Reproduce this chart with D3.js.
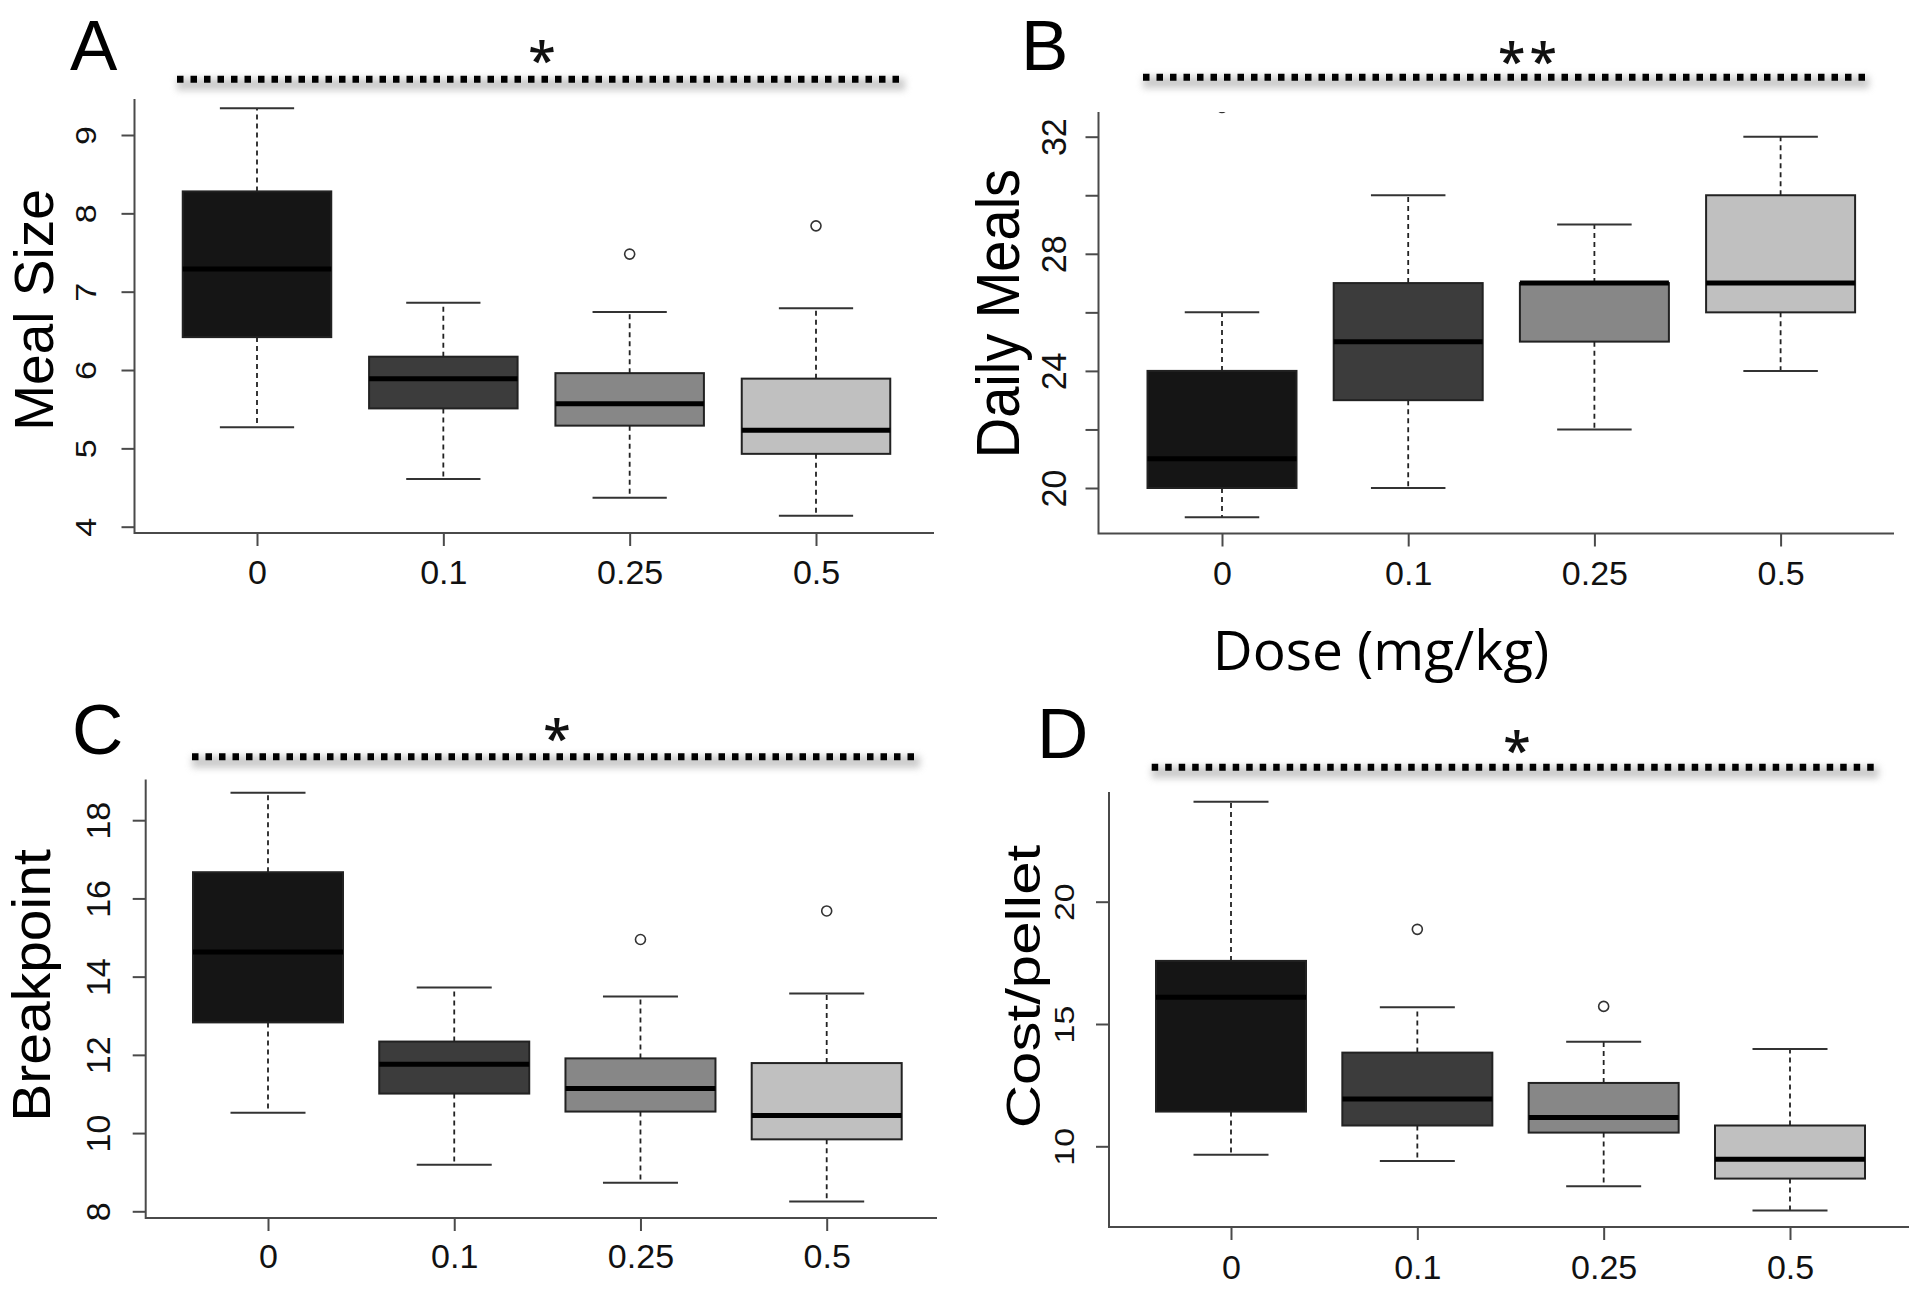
<!DOCTYPE html>
<html><head><meta charset="utf-8">
<script src="https://cdn.jsdelivr.net/npm/d3@7"></script>
<style>body{margin:0;background:#fff}</style>
</head><body>
<svg id="chart" width="1920" height="1298"></svg>
<script>
// ---------- data ----------
const doses = ["0", "0.1", "0.25", "0.5"];

const mealSizeLow    = [5.27, 4.61, 4.37, 4.14];
const mealSizeQ1     = [6.42, 5.51, 5.29, 4.93];
const mealSizeMedian = [7.29, 5.89, 5.57, 5.23];
const mealSizeQ3     = [8.28, 6.17, 5.96, 5.89];
const mealSizeHigh   = [9.34, 6.86, 6.74, 6.79];
const mealSizeOut    = [[], [], [7.48], [7.84]];
const mealSizeTicks  = [4, 5, 6, 7, 8, 9];

const dailyMealsLow    = [19, 20, 22, 24];
const dailyMealsQ1     = [20, 23, 25, 26];
const dailyMealsMedian = [21, 25, 27, 27];
const dailyMealsQ3     = [24, 27, 27, 30];
const dailyMealsHigh   = [26, 30, 29, 32];
const dailyMealsOut    = [[33], [], [], []];
const dailyMealsTicks  = [20, 22, 24, 26, 28, 30, 32];
const dailyMealsLabels = [20, 24, 28, 32];

const breakpointLow    = [10.52, 9.19, 8.73, 8.25];
const breakpointQ1     = [12.83, 11.01, 10.55, 9.84];
const breakpointMedian = [14.63, 11.76, 11.14, 10.45];
const breakpointQ3     = [16.67, 12.34, 11.91, 11.79];
const breakpointHigh   = [18.70, 13.72, 13.49, 13.57];
const breakpointOut    = [[], [], [14.95], [15.68]];
const breakpointTicks  = [8, 10, 12, 14, 16, 18];

const costLow    = [9.65, 9.40, 8.37, 7.38];
const costQ1     = [11.42, 10.85, 10.56, 8.68];
const costMedian = [16.09, 11.93, 11.18, 9.47];
const costQ3     = [17.58, 13.83, 12.59, 10.85];
const costHigh   = [24.09, 15.68, 14.27, 13.98];
const costOut    = [[], [18.87], [15.72], []];
const costTicks  = [10, 15, 20];

const fills = ["#151515", "#3c3c3c", "#878787", "#c0c0c0"];

// ---------- panel layout ----------
const panels = [
  { letter: "A", title: "Meal Size", stars: "*",
    low: mealSizeLow, q1: mealSizeQ1, med: mealSizeMedian, q3: mealSizeQ3, high: mealSizeHigh, out: mealSizeOut,
    ticks: mealSizeTicks, labels: mealSizeTicks, ydom: [4, 9], yrng: [526.7, 135],
    L: 134.5, R: 934, T: 99, B: 533, xc: [257, 816], bw: 148.5, xlabBase: 584,
    tickLabOff: 48.5, tickSx: 0.86, titleX: 53, titleY: 310, titleFs: 55, titleSx: 1.0,
    letterX: 70, letterY: 70, sigY: 79.3, sigX: [177, 905], starX: 542, starY: 54 },
  { letter: "B", title: "Daily Meals", stars: "**",
    low: dailyMealsLow, q1: dailyMealsQ1, med: dailyMealsMedian, q3: dailyMealsQ3, high: dailyMealsHigh, out: dailyMealsOut,
    ticks: dailyMealsTicks, labels: dailyMealsLabels, ydom: [20, 32], yrng: [488, 136.7],
    L: 1098.5, R: 1894, T: 112, B: 533.5, xc: [1222, 1780.6], bw: 149, xlabBase: 585,
    tickLabOff: 44.5, tickSx: 1.03, titleX: 1019, titleY: 313.6, titleFs: 56, titleSx: 1.08,
    letterX: 1021, letterY: 70, sigY: 77.3, sigX: [1143, 1869], starX: 1529.5, starY: 54.7 },
  { letter: "C", title: "Breakpoint", stars: "*",
    low: breakpointLow, q1: breakpointQ1, med: breakpointMedian, q3: breakpointQ3, high: breakpointHigh, out: breakpointOut,
    ticks: breakpointTicks, labels: breakpointTicks, ydom: [8, 18], yrng: [1211.3, 820.2],
    L: 145.7, R: 937, T: 779.5, B: 1218, xc: [268, 826.7], bw: 150, xlabBase: 1268,
    tickLabOff: 47.4, tickSx: 0.96, titleX: 50, titleY: 985.5, titleFs: 57, titleSx: 0.93,
    letterX: 72, letterY: 754, sigY: 756.8, sigX: [192, 920], starX: 557, starY: 732 },
  { letter: "D", title: "Cost/pellet", stars: "*",
    low: costLow, q1: costQ1, med: costMedian, q3: costQ3, high: costHigh, out: costOut,
    ticks: costTicks, labels: costTicks, ydom: [10, 20], yrng: [1146.3, 901.7],
    L: 1109, R: 1909, T: 792, B: 1227, xc: [1231, 1790], bw: 150, xlabBase: 1279,
    tickLabOff: 44, tickSx: 0.82, titleX: 1040, titleY: 986.5, titleFs: 60, titleSx: 0.8,
    letterX: 1037, letterY: 758, sigY: 767.3, sigX: [1151.7, 1878.6], starX: 1517, starY: 744 }
];

const svg = d3.select("#chart");
const defs = svg.append("defs");
defs.append("filter").attr("id", "blur").attr("x", "-5%").attr("y", "-200%").attr("width", "110%").attr("height", "500%")
  .append("feGaussianBlur").attr("stdDeviation", 3.5);

const axisCol = "#4a4a4a";
const sans = "'Liberation Sans', Arial, sans-serif";
const labelFont = "'Open Sans', sans-serif";

panels.forEach((p, pi) => {
  const g = svg.append("g");
  const x = d3.scalePoint().domain(doses).range(p.xc);
  const y = d3.scaleLinear().domain(p.ydom).range(p.yrng);

  defs.append("clipPath").attr("id", "clip" + pi)
    .append("rect").attr("x", p.L).attr("y", p.T).attr("width", p.R - p.L).attr("height", p.B - p.T);

  // panel letter
  g.append("text").attr("x", p.letterX).attr("y", p.letterY)
    .attr("font-family", sans).attr("font-size", 71).attr("fill", "#000").text(p.letter);

  // significance bar with shadow
  g.append("rect").attr("x", p.sigX[0]).attr("y", p.sigY - 1).attr("width", p.sigX[1] - p.sigX[0]).attr("height", 12)
    .attr("fill", "#a8a8a8").attr("opacity", 0.6).attr("filter", "url(#blur)");
  g.append("line").attr("x1", p.sigX[0]).attr("x2", p.sigX[1]).attr("y1", p.sigY).attr("y2", p.sigY)
    .attr("stroke", "#000").attr("stroke-width", 7).attr("stroke-dasharray", "6.5 7");
  g.append("text").attr("x", p.starX).attr("y", p.starY + 24).attr("text-anchor", "middle")
    .attr("font-family", labelFont).attr("font-weight", 600).attr("font-size", 50).attr("fill", "#111")
    .attr("letter-spacing", p.stars.length > 1 ? 4 : 0).text(p.stars);

  // L-shaped box
  g.append("path").attr("d", `M${p.L},${p.T}V${p.B}H${p.R}`)
    .attr("fill", "none").attr("stroke", axisCol).attr("stroke-width", 2);

  // y axis
  const yAxis = d3.axisLeft(y).tickValues(p.ticks).tickSize(13).tickSizeOuter(0)
    .tickFormat(d => p.labels.includes(d) ? d : "");
  const ya = g.append("g").attr("transform", `translate(${p.L},0)`).call(yAxis);
  ya.select(".domain").remove();
  ya.selectAll(".tick line").attr("stroke", axisCol).attr("stroke-width", 2);
  ya.selectAll(".tick text")
    .attr("x", null).attr("dy", null)
    .attr("transform", `translate(${-p.tickLabOff},0) scale(${p.tickSx},1) rotate(-90)`)
    .attr("text-anchor", "middle").attr("dominant-baseline", "central")
    .attr("font-family", sans).attr("font-size", 34).attr("fill", "#111");

  // x axis
  const xAxis = d3.axisBottom(x).tickSize(13).tickSizeOuter(0);
  const xa = g.append("g").attr("transform", `translate(0,${p.B})`).call(xAxis);
  xa.select(".domain").remove();
  xa.selectAll(".tick line").attr("stroke", axisCol).attr("stroke-width", 2);
  xa.selectAll(".tick text").attr("y", p.xlabBase - p.B).attr("dy", 0)
    .attr("font-family", sans).attr("font-size", 34).attr("fill", "#111");

  // y title
  g.append("text")
    .attr("transform", `translate(${p.titleX},${p.titleY}) scale(${p.titleSx},1) rotate(-90)`)
    .attr("text-anchor", "middle").attr("font-family", sans).attr("font-size", p.titleFs)
    .attr("fill", "#000").text(p.title);

  // boxplots
  const boxes = g.append("g").attr("clip-path", `url(#clip${pi})`);
  doses.forEach((d, i) => {
    const cx = x(d), hw = p.bw / 2, cw = p.bw / 4;
    const bg = boxes.append("g");
    // whiskers (dashed)
    bg.append("line").attr("x1", cx).attr("x2", cx).attr("y1", y(p.q3[i])).attr("y2", y(p.high[i]))
      .attr("stroke", "#222").attr("stroke-width", 1.8).attr("stroke-dasharray", "5 4");
    bg.append("line").attr("x1", cx).attr("x2", cx).attr("y1", y(p.q1[i])).attr("y2", y(p.low[i]))
      .attr("stroke", "#222").attr("stroke-width", 1.8).attr("stroke-dasharray", "5 4");
    // caps
    [p.high[i], p.low[i]].forEach(v => {
      bg.append("line").attr("x1", cx - cw).attr("x2", cx + cw).attr("y1", y(v)).attr("y2", y(v))
        .attr("stroke", "#333").attr("stroke-width", 2);
    });
    // box
    bg.append("rect").attr("x", cx - hw).attr("width", p.bw)
      .attr("y", y(p.q3[i])).attr("height", y(p.q1[i]) - y(p.q3[i]))
      .attr("fill", fills[i]).attr("stroke", "#222").attr("stroke-width", 2);
    // median
    bg.append("line").attr("x1", cx - hw).attr("x2", cx + hw).attr("y1", y(p.med[i])).attr("y2", y(p.med[i]))
      .attr("stroke", "#000").attr("stroke-width", 5);
    // outliers
    p.out[i].forEach(v => {
      bg.append("circle").attr("cx", cx).attr("cy", y(v)).attr("r", 5)
        .attr("fill", "none").attr("stroke", "#333").attr("stroke-width", 1.6);
    });
  });
});

// shared x title
svg.append("text").attr("x", 1381).attr("y", 670).attr("text-anchor", "middle")
  .attr("font-family", labelFont).attr("font-size", 55).attr("fill", "#000").text("Dose (mg/kg)");
</script>
</body></html>
